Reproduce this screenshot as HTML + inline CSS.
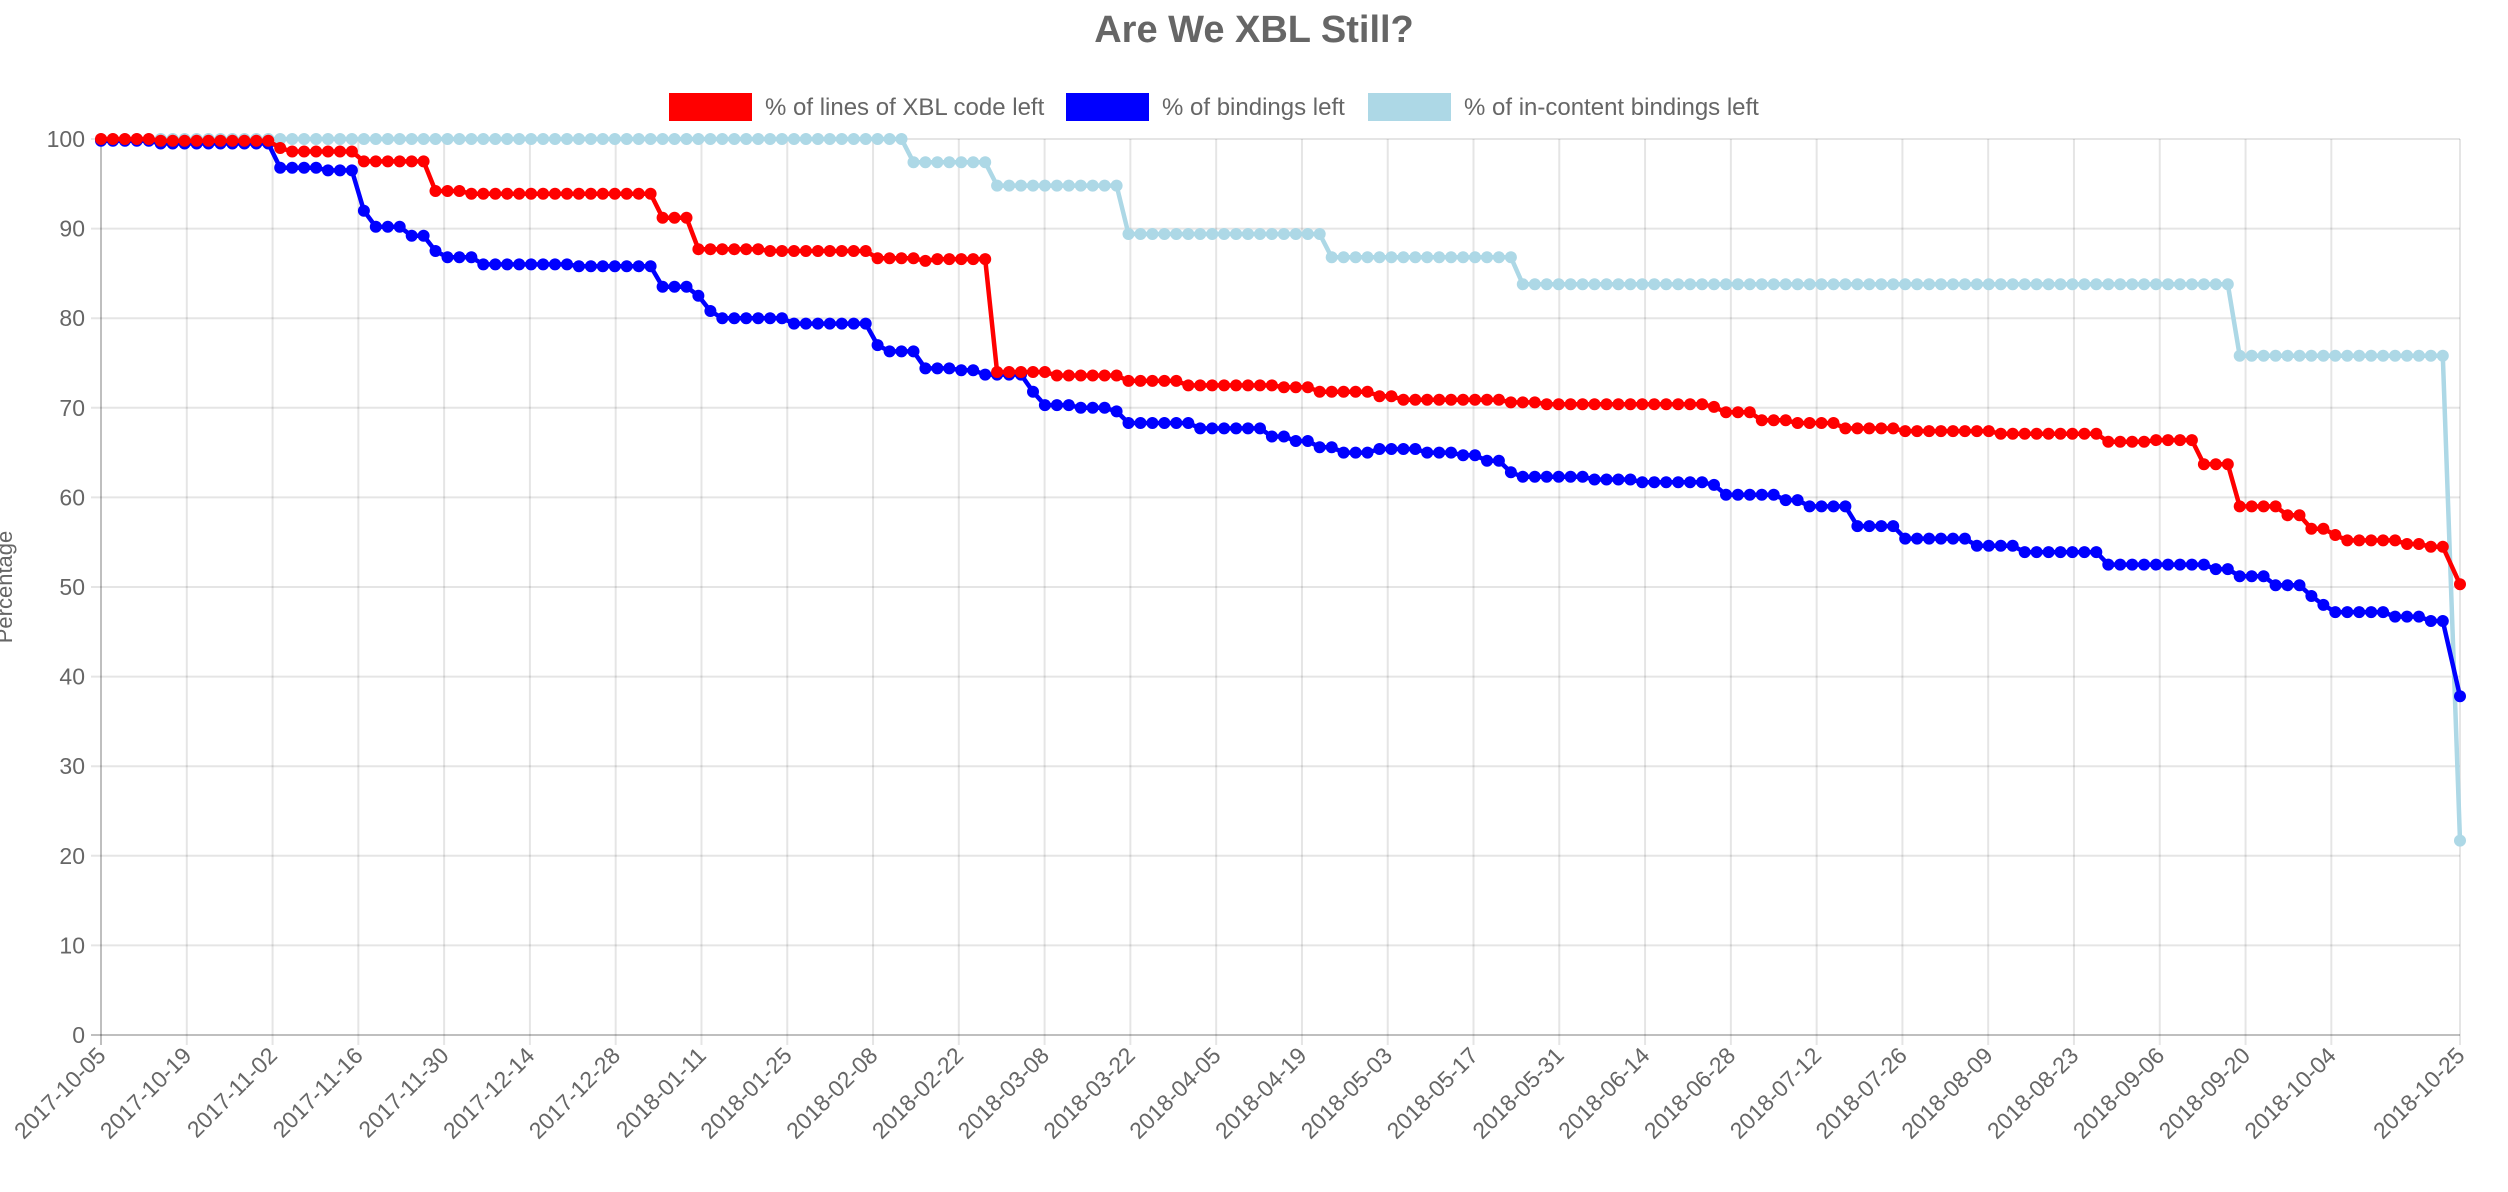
<!DOCTYPE html>
<html><head><meta charset="utf-8">
<style>
html,body{margin:0;padding:0;background:#fff;}
svg{display:block;font-family:"Liberation Sans",Arial,sans-serif;}
</style></head>
<body>
<svg id="c" width="2508" height="1192" xmlns="http://www.w3.org/2000/svg"></svg>
<script>
const L=101,R=2460,T=139,B=1035,DAYS=385;
const X=d=>L+(R-L)*d/DAYS, Y=v=>B-(B-T)*v/100;
const dx=x=>(x-63)/(1475/385);
let s='';
for(let i=0;i<=10;i++){const y=Y(i*10);
 s+=`<line x1="${L-10}" y1="${y}" x2="${R}" y2="${y}" stroke="${i==0?'rgba(0,0,0,0.25)':'rgba(0,0,0,0.1)'}" stroke-width="2"/>`;
 s+=`<text x="${L-16}" y="${y+8}" font-size="23" fill="#666" text-anchor="end">${i*10}</text>`;}
const start=new Date(Date.UTC(2017,9,5));
const fmt=d=>{const t=new Date(start.getTime()+d*864e5);return t.toISOString().slice(0,10);};
const ticks=[];for(let d=0;d<=364;d+=14)ticks.push(d);ticks.push(385);
for(const d of ticks){const x=X(d);
 s+=`<line x1="${x}" y1="${T}" x2="${x}" y2="${B+10}" stroke="${d==0?'rgba(0,0,0,0.25)':'rgba(0,0,0,0.1)'}" stroke-width="2"/>`;
 s+=`<text transform="translate(${x+6},${B+22}) rotate(-45)" font-size="23" fill="#666" text-anchor="end">${fmt(d)}</text>`;}
s+=`<text transform="translate(12,${(T+B)/2}) rotate(-90)" font-size="22" fill="#666" text-anchor="middle">Percentage</text>`;
s+=`<text x="1254" y="42" font-size="38" font-weight="bold" fill="#666" text-anchor="middle">Are We XBL Still?</text>`;
const leg=[[669,'red','% of lines of XBL code left'],[1066,'blue','% of bindings left'],[1368,'lightblue','% of in-content bindings left']];
for(const [x,c,t] of leg){s+=`<rect x="${x}" y="93" width="83" height="28" fill="${c}"/><text x="${x+96}" y="115" font-size="24" fill="#666">${t}</text>`;}
const red=[[63,100],[100,99.8],[168,99],[180,98.6],[220,97.5],[266,94.2],[290,93.9],[410,91.2],[435,87.7],[480,87.5],[543,86.7],[575,86.4],[585,86.6],[617,74],[660,73.6],[700,73],[740,72.5],[800,72.3],[820,71.8],[855,71.3],[875,70.9],[940,70.6],[960,70.4],[1070,70.1],[1075,69.5],[1100,68.6],[1120,68.3],[1150,67.7],[1190,67.4],[1250,67.1],[1290,67.1],[1315,66.2],[1345,66.4],[1372,63.7],[1400,59],[1425,58],[1443,56.5],[1455,55.8],[1465,55.2],[1500,54.8],[1515,54.5]];
const blue=[[63,99.8],[95,99.5],[175,96.8],[200,96.5],[222,92],[230,90.2],[255,89.2],[268,87.5],[275,86.8],[297,86],[360,85.8],[412,83.5],[430,82.5],[437,80.8],[450,80],[490,79.4],[542,77],[550,76.3],[573,74.4],[600,74.2],[615,73.7],[643,71.8],[650,70.3],[670,70],[697,69.6],[705,68.3],[745,67.7],[790,66.8],[805,66.3],[820,65.6],[838,65],[862,65.4],[885,65],[910,64.7],[927,64.1],[940,62.8],[948,62.3],[990,62],[1025,61.7],[1070,61.4],[1078,60.3],[1110,59.7],[1125,59],[1155,56.8],[1185,55.4],[1230,54.6],[1262,53.9],[1318,52.5],[1378,52],[1400,51.2],[1420,50.2],[1440,49],[1450,48],[1460,47.2],[1490,46.7],[1513,46.2],[1528,45.2]];
const lb=[[63,100],[570,97.4],[618,94.8],[702,89.4],[832,86.8],[946,83.8],[1398,75.8]];
function val(st,day){let v=st[0][1];for(const [x,y] of st){if(dx(x)<=day+0.01)v=y;}return v;}
function series(st,last,col){
 const pts=[];for(let d=0;d<383;d+=1.95)pts.push([d,val(st,d)]);
 pts.push([385,last]);
 let p='';pts.forEach((q,i)=>p+=(i?'L':'M')+X(q[0]).toFixed(1)+','+Y(q[1]).toFixed(1));
 let o=`<path d="${p}" fill="none" stroke="${col}" stroke-width="4.5" stroke-linejoin="round"/>`;
 for(const q of pts)o+=`<circle cx="${X(q[0]).toFixed(1)}" cy="${Y(q[1]).toFixed(1)}" r="6" fill="${col}"/>`;
 return o;}
s+=series(lb,21.7,'lightblue');
s+=series(blue,37.8,'blue');
s+=series(red,50.3,'red');
document.getElementById('c').innerHTML=s;
</script>
</body></html>
